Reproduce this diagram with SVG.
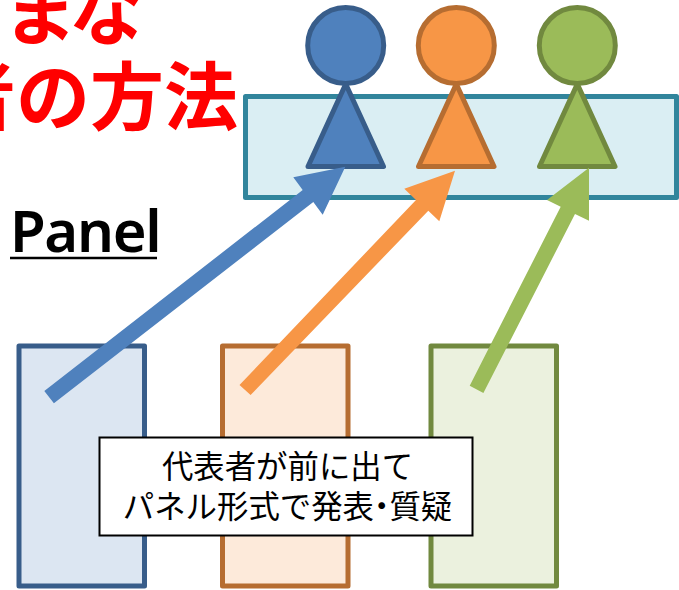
<svg xmlns="http://www.w3.org/2000/svg" width="679" height="590" viewBox="0 0 679 590">
<style>
.jp{font-family:"Noto Sans CJK JP","Noto Sans CJK SC",sans-serif}
.title{font-size:74px;font-weight:700;fill:#ff0000}
.note{font-size:31.4px;fill:#000;text-anchor:middle}
.lbl{font-family:"Noto Sans",sans-serif;font-size:58px;font-weight:600;fill:#000;letter-spacing:-1.3px}
.pb{stroke-width:5;stroke-linejoin:round}
.blue{fill:#4f81bd;stroke:#385d8a}
.orange{fill:#f79646;stroke:#b66d31}
.green{fill:#9bbb59;stroke:#71893f}
</style>
<rect width="679" height="590" fill="#fff"/>
<g id="title">
<text class="jp title" x="3" y="39">ま<tspan dx="-8">な</tspan></text>
<text class="jp title" x="238" y="124" text-anchor="end">者の方法</text>
</g>
<g id="panel-label"><text class="lbl" x="10" y="252">Panel</text><line x1="10" y1="258" x2="157" y2="258" stroke="#000" stroke-width="2.5"/></g>
<g id="panel-table"><rect class="pb" x="245.5" y="96.5" width="431" height="101" fill="#daeef3" stroke="#31859c"/></g>
<g id="person-1"><circle class="pb blue" cx="345.7" cy="45.5" r="38"/><path class="pb blue" d="M345.7 84L383.5 166.5H308Z"/></g>
<g id="person-2"><circle class="pb orange" cx="456.3" cy="45.5" r="38"/><path class="pb orange" d="M456.3 84L494 166.5H418.5Z"/></g>
<g id="person-3"><circle class="pb green" cx="577.3" cy="45.5" r="38"/><path class="pb green" d="M577.3 84L615 166.5H539.5Z"/></g>
<g id="source-1"><rect class="pb" x="19" y="346" width="125.5" height="240" fill="#dce6f2" stroke="#385d8a"/></g>
<g id="source-2"><rect class="pb" x="222.5" y="346" width="125.5" height="240" fill="#fdeada" stroke="#b66d31"/></g>
<g id="source-3"><rect class="pb" x="431" y="346" width="125.5" height="240" fill="#ebf1de" stroke="#71893f"/></g>
<g id="connectors">
<polygon fill="#4f81bd" points="44.3,391 302.7,190 293.3,177.3 345.3,166.7 322.7,214.7 313.3,202 53.9,403.3"/>
<polygon fill="#f79646" points="239.5,385 416,200 404.3,188.7 455,170.7 439.3,221.3 428.3,210.7 250.6,395"/>
<polygon fill="#9bbb59" points="469.7,385.7 560.7,206.7 547,200 589,167.7 589,220.7 575,214 483.4,393"/>
</g>
<g id="note">
<rect x="99.5" y="437.5" width="373" height="98" fill="#fff" stroke="#000" stroke-width="2"/>
<text class="jp note" x="287.5" y="478">代表者が前に出て</text>
<text class="jp note" x="287.5" y="518">パネル形式で発表<tspan dx="-8">・</tspan><tspan dx="-8">質疑</tspan></text>
</g>
</svg>
